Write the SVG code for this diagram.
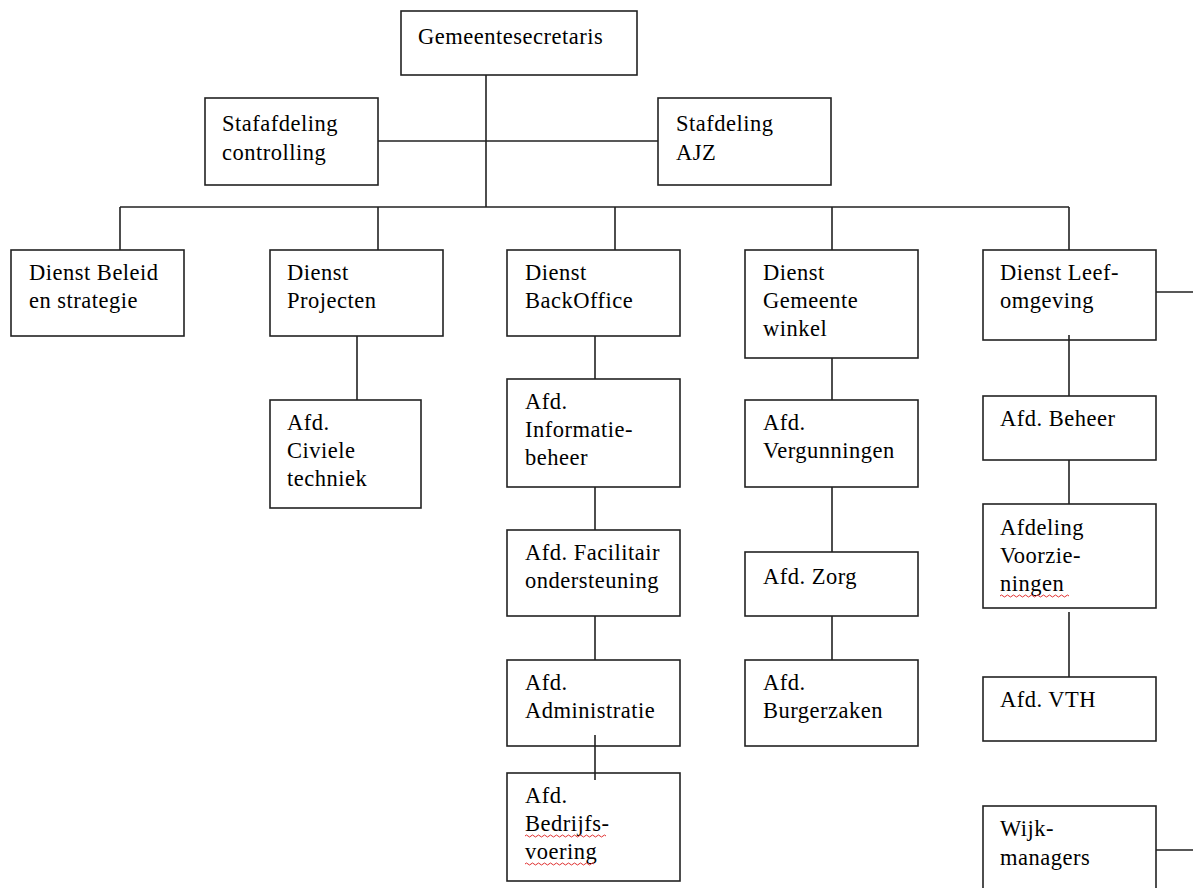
<svg xmlns="http://www.w3.org/2000/svg" width="1193" height="888" viewBox="0 0 1193 888">
<style>
.b{fill:#fff;stroke:#222;stroke-width:1.6}
.t{font-family:"Liberation Serif","Times New Roman",serif;font-size:22.5px;fill:#000;letter-spacing:0.5px}
.c{stroke:#222;stroke-width:1.6;fill:none}
.w{stroke:#e03030;stroke-width:1;fill:none}
</style>
<rect width="1193" height="888" fill="#fff"/>
<g id="n1"><rect class="b" x="401" y="11" width="236" height="64"/><text class="t" x="418" y="44">Gemeentesecretaris</text></g>
<g id="n2"><rect class="b" x="205" y="98" width="173" height="87"/><text class="t" x="222" y="131">Stafafdeling</text><text class="t" x="222" y="160">controlling</text></g>
<g id="n3"><rect class="b" x="658" y="98" width="173" height="87"/><text class="t" x="676" y="131">Stafdeling</text><text class="t" x="676" y="160">AJZ</text></g>
<g id="n4"><rect class="b" x="11" y="250" width="173" height="86"/><text class="t" x="29" y="280">Dienst Beleid</text><text class="t" x="29" y="308">en strategie</text></g>
<g id="n5"><rect class="b" x="270" y="250" width="173" height="86"/><text class="t" x="287" y="280">Dienst</text><text class="t" x="287" y="308">Projecten</text></g>
<g id="n6"><rect class="b" x="507" y="250" width="173" height="86"/><text class="t" x="525" y="280">Dienst</text><text class="t" x="525" y="308">BackOffice</text></g>
<g id="n7"><rect class="b" x="745" y="250" width="173" height="108"/><text class="t" x="763" y="280">Dienst</text><text class="t" x="763" y="308">Gemeente</text><text class="t" x="763" y="336">winkel</text></g>
<g id="n8"><rect class="b" x="983" y="250" width="173" height="90"/><text class="t" x="1000" y="280">Dienst Leef-</text><text class="t" x="1000" y="308">omgeving</text></g>
<g id="n9"><rect class="b" x="270" y="400" width="151" height="108"/><text class="t" x="287" y="430">Afd.</text><text class="t" x="287" y="458">Civiele</text><text class="t" x="287" y="486">techniek</text></g>
<g id="n10"><rect class="b" x="507" y="379" width="173" height="108"/><text class="t" x="525" y="409">Afd.</text><text class="t" x="525" y="437">Informatie-</text><text class="t" x="525" y="465">beheer</text></g>
<g id="n11"><rect class="b" x="507" y="530" width="173" height="86"/><text class="t" x="525" y="560">Afd. Facilitair</text><text class="t" x="525" y="588">ondersteuning</text></g>
<g id="n12"><rect class="b" x="507" y="660" width="173" height="86"/><text class="t" x="525" y="690">Afd.</text><text class="t" x="525" y="718">Administratie</text></g>
<g id="n13"><rect class="b" x="507" y="773" width="173" height="108"/><text class="t" x="525" y="803">Afd.</text><text class="t" x="525" y="831">Bedrijfs-</text><text class="t" x="525" y="859">voering</text>
<path class="w" d="M525 836q1.5-2 3 0t3 0t3 0t3 0t3 0t3 0t3 0t3 0t3 0t3 0t3 0t3 0t3 0t3 0t3 0t3 0t3 0t3 0t3 0t3 0t3 0t3 0t3 0t3 0t3 0t3 0t3 0"/>
<path class="w" d="M525 864q1.5-2 3 0t3 0t3 0t3 0t3 0t3 0t3 0t3 0t3 0t3 0t3 0t3 0t3 0t3 0t3 0t3 0t3 0t3 0t3 0t3 0t3 0t3 0t3 0"/></g>
<g id="n14"><rect class="b" x="745" y="400" width="173" height="87"/><text class="t" x="763" y="430">Afd.</text><text class="t" x="763" y="458">Vergunningen</text></g>
<g id="n15"><rect class="b" x="745" y="552" width="173" height="64"/><text class="t" x="763" y="584">Afd. Zorg</text></g>
<g id="n16"><rect class="b" x="745" y="660" width="173" height="86"/><text class="t" x="763" y="690">Afd.</text><text class="t" x="763" y="718">Burgerzaken</text></g>
<g id="n17"><rect class="b" x="983" y="396" width="173" height="64"/><text class="t" x="1000" y="426">Afd. Beheer</text></g>
<g id="n18"><rect class="b" x="983" y="504" width="173" height="104"/><text class="t" x="1000" y="535">Afdeling</text><text class="t" x="1000" y="563">Voorzie-</text><text class="t" x="1000" y="591">ningen</text>
<path class="w" d="M1000 596q1.5-2 3 0t3 0t3 0t3 0t3 0t3 0t3 0t3 0t3 0t3 0t3 0t3 0t3 0t3 0t3 0t3 0t3 0t3 0t3 0t3 0t3 0t3 0t3 0"/></g>
<g id="n19"><rect class="b" x="983" y="677" width="173" height="64"/><text class="t" x="1000" y="707">Afd. VTH</text></g>
<g id="n20"><rect class="b" x="983" y="806" width="173" height="95"/><text class="t" x="1000" y="836">Wijk-</text><text class="t" x="1000" y="865">managers</text></g>
<g id="connectors">
<path class="c" d="M486 75V207M378 141H658M120 207H1069M120 207V250M378 207V250M615 207V250M832 207V250M1069 207V250"/>
<path class="c" d="M357 336V400M595 336V379M595 487V530M595 616V660M595 735V780M832 358V400M832 487V552M832 616V660M1069 335V396M1069 460V504M1069 612V677M1156 292H1193M1156 850H1193"/>
</g>
</svg>
